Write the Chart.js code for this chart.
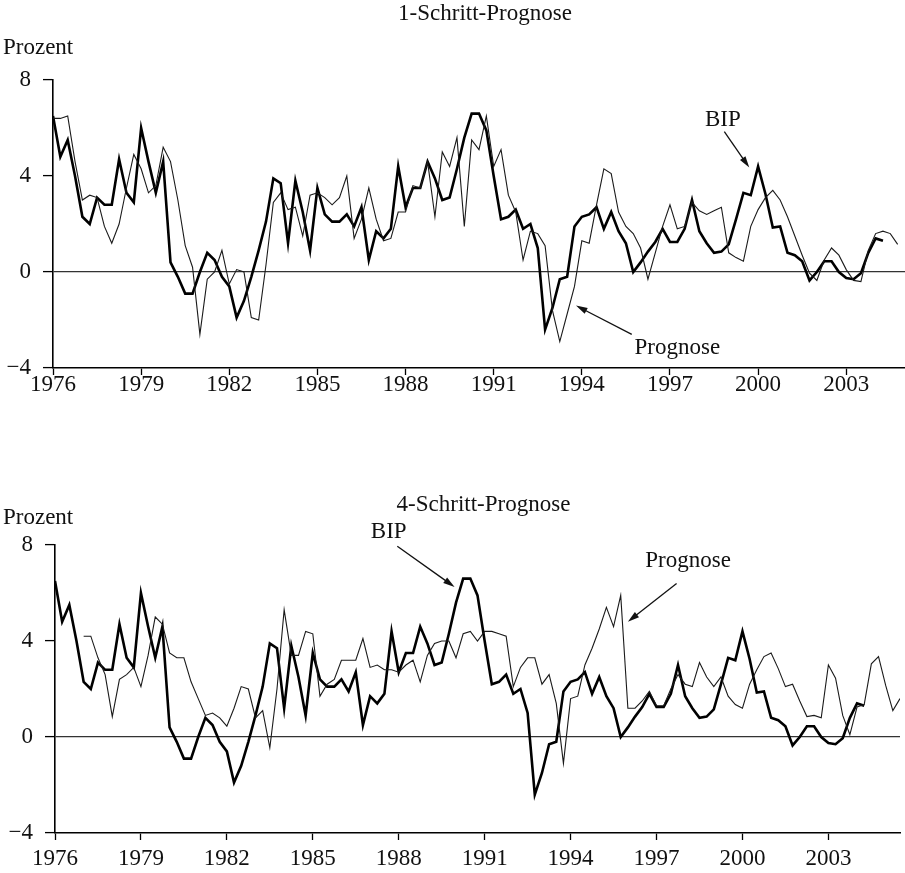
<!DOCTYPE html>
<html>
<head>
<meta charset="utf-8">
<script src="https://cdn.jsdelivr.net/npm/chart.js@4.4.1/dist/chart.umd.min.js"></script>
<style>
  body { margin: 0; background: #fff; width: 905px; height: 873px; position: relative; overflow: hidden; }
  canvas { position: absolute; left: 0; }
</style>
</head>
<body>
<canvas id="chartOne" width="905" height="405" style="top:0px"></canvas>
<canvas id="chartFour" width="905" height="403" style="top:470px"></canvas>
<script>
// Quarterly data, starting 1976 Q1
const startYear = 1976;
const yearTicks = [1976, 1979, 1982, 1985, 1988, 1991, 1994, 1997, 2000, 2003];
const valueTicks = [-4, 0, 4, 8];

// BIP growth (thick line), same in both panels
const bip = [
  6.5, 4.8, 5.5, 4.0, 2.3, 2.0, 3.1, 2.8, 2.8, 4.7, 3.3, 2.9,
  6.0, 4.6, 3.3, 4.6, 0.4, -0.2, -0.9, -0.9, 0.0, 0.8, 0.5, -0.2,
  -0.6, -1.9, -1.2, -0.2, 0.9, 2.1, 3.9, 3.7, 1.2, 3.8, 2.5, 0.9,
  3.5, 2.4, 2.1, 2.1, 2.4, 1.9, 2.7, 0.5, 1.7, 1.4, 1.8, 4.4,
  2.7, 3.5, 3.5, 4.6, 3.9, 3.0, 3.1, 4.3, 5.6, 6.6, 6.6, 5.9,
  4.0, 2.2, 2.3, 2.6, 1.8, 2.0, 1.0, -2.4, -1.5, -0.3, -0.2, 1.9,
  2.3, 2.4, 2.7, 1.8, 2.5, 1.7, 1.2, 0.0, 0.4, 0.85, 1.25, 1.8,
  1.25, 1.25, 1.8, 3.0, 1.7, 1.2, 0.8, 0.85, 1.15, 2.2, 3.3, 3.2,
  4.4, 3.25, 1.85, 1.9, 0.8, 0.7, 0.45, -0.35, 0.0, 0.45, 0.45, 0.0,
  -0.25, -0.3, -0.05, 0.8, 1.4, 1.3
];

// 1-step forecast (thin line, upper panel)
const prognose1 = [
  6.4, 6.4, 6.5, 4.6, 3.0, 3.2, 3.1, 1.9, 1.2, 2.0, 3.5, 4.9,
  4.3, 3.3, 3.6, 5.2, 4.6, 3.0, 1.1, 0.2, -2.6, -0.3, 0.0, 0.9,
  -0.5, 0.1, 0.0, -1.9, -2.0, 0.3, 2.9, 3.3, 2.6, 2.7, 1.5, 3.2,
  3.3, 3.1, 2.8, 3.1, 4.0, 1.4, 2.2, 3.5, 2.2, 1.3, 1.4, 2.5,
  2.5, 3.6, 3.5, 4.6, 2.3, 5.0, 4.4, 5.6, 1.9, 5.5, 5.1, 6.5,
  4.4, 5.1, 3.2, 2.5, 0.5, 1.7, 1.6, 1.1, -1.6, -2.9, -1.75, -0.6,
  1.3, 1.2, 2.8, 4.3, 4.1, 2.5, 1.9, 1.6, 1.0, -0.3, 0.8, 1.9,
  2.8, 1.8, 1.9, 2.9, 2.55, 2.4, 2.55, 2.7, 0.8, 0.6, 0.45, 1.9,
  2.6, 3.1, 3.4, 3.0, 2.3, 1.5, 0.7, -0.05, -0.35, 0.5, 1.0, 0.7,
  0.1, -0.35, -0.4, 0.9, 1.6, 1.7, 1.6, 1.15
];

// 4-step forecast (thin line, lower panel), first year empty
const prognose4 = [
  null, null, null, null, 4.2, 4.2, 3.3, 2.6, 0.85, 2.4, 2.6, 2.9,
  2.1, 3.4, 5.0, 4.7, 3.5, 3.3, 3.3, 2.3, 1.6, 0.9, 1.0, 0.8,
  0.45, 1.2, 2.1, 2.0, 0.8, 1.1, -0.45, 2.0, 5.3, 3.4, 3.4, 4.4,
  4.3, 1.7, 2.2, 2.4, 3.2, 3.2, 3.2, 4.1, 2.9, 3.0, 2.8, 2.8,
  2.7, 3.0, 3.2, 2.3, 3.4, 3.9, 4.0, 4.0, 3.3, 4.3, 4.4, 4.0,
  4.4, 4.4, 4.3, 4.2, 2.1, 2.9, 3.3, 3.3, 2.2, 2.6, 1.4, -1.1,
  1.6, 1.7, 3.0, 3.7, 4.5, 5.4, 4.6, 5.9, 1.2, 1.2, 1.5, 1.9,
  1.3, 1.3, 2.0, 2.6, 2.2, 2.1, 3.1, 2.5, 2.1, 2.5, 1.7, 1.35,
  1.2, 2.2, 2.8, 3.35, 3.5, 2.85, 2.1, 2.2, 1.5, 0.85, 0.9, 0.8,
  3.0, 2.45, 0.9, 0.1, 1.25, 1.35, 3.05, 3.35, 2.15, 1.1, 1.6
];

const FONT = '"Liberation Serif", "Times New Roman", serif';

const toPoints = (values) => values.map((v, i) => ({ x: startYear + i / 4, y: v }));

// Draws panel title, unit label and the arrow annotations
const annotate = {
  id: 'annotate',
  afterDraw(chart, args, opts) {
    const { ctx, chartArea, scales: { x, y } } = chart;
    ctx.save();
    ctx.fillStyle = '#111';
    ctx.strokeStyle = '#111';
    ctx.font = '23px ' + FONT;
    ctx.textBaseline = 'middle';

    ctx.textAlign = 'center';
    ctx.fillText(opts.title, (chartArea.left + chartArea.right) / 2 + 6, opts.titleY);
    ctx.textAlign = 'left';
    ctx.fillText('Prozent', 3, opts.unitY);

    ctx.textAlign = 'center';
    opts.notes.forEach(n => {
      ctx.fillText(n.text, x.getPixelForValue(n.at[0]), y.getPixelForValue(n.at[1]));
      const x0 = x.getPixelForValue(n.from[0]), y0 = y.getPixelForValue(n.from[1]);
      const x1 = x.getPixelForValue(n.to[0]), y1 = y.getPixelForValue(n.to[1]);
      const ang = Math.atan2(y1 - y0, x1 - x0);
      ctx.lineWidth = 1.3;
      ctx.beginPath();
      ctx.moveTo(x0, y0);
      ctx.lineTo(x1 - 8 * Math.cos(ang), y1 - 8 * Math.sin(ang));
      ctx.stroke();
      ctx.beginPath();
      ctx.moveTo(x1, y1);
      ctx.lineTo(x1 - 12 * Math.cos(ang - 0.28), y1 - 12 * Math.sin(ang - 0.28));
      ctx.lineTo(x1 - 12 * Math.cos(ang + 0.28), y1 - 12 * Math.sin(ang + 0.28));
      ctx.closePath();
      ctx.fill();
    });
    ctx.restore();
  }
};

function makeChart(canvasId, forecast, cfg) {
  const ctx = document.getElementById(canvasId).getContext('2d');
  return new Chart(ctx, {
    type: 'line',
    data: {
      datasets: [
        {
          label: 'Prognose',
          data: toPoints(forecast),
          borderColor: '#1a1a1a',
          borderWidth: 1.1,
          pointRadius: 0,
          tension: 0,
          spanGaps: false,
        },
        {
          label: 'BIP',
          data: toPoints(bip),
          borderColor: '#000',
          borderWidth: 2.6,
          pointRadius: 0,
          tension: 0,
        },
      ],
    },
    options: {
      responsive: false,
      animation: false,
      layout: { padding: { top: cfg.padTop, right: cfg.padRight, left: 0, bottom: 0 } },
      plugins: {
        legend: { display: false },
        tooltip: { enabled: false },
        annotate: { title: cfg.title, titleY: cfg.titleY, unitY: cfg.unitY, notes: cfg.notes },
      },
      scales: {
        x: {
          type: 'linear',
          min: startYear,
          max: cfg.xMax,
          afterBuildTicks: (s) => { s.ticks = yearTicks.map(v => ({ value: v })); },
          afterFit: (s) => { s.height = cfg.xHeight; },
          ticks: {
            color: '#111',
            font: { family: FONT, size: 23 },
            padding: cfg.xPad,
            maxRotation: 0,
            autoSkip: false,
            callback: (v) => String(v),
          },
          grid: { drawOnChartArea: false, tickLength: 7, tickColor: '#000', tickWidth: 1.3 },
          border: { display: true, color: '#000', width: 1.6 },
        },
        y: {
          min: -4,
          max: 8,
          afterBuildTicks: (s) => { s.ticks = valueTicks.map(v => ({ value: v })); },
          afterFit: (s) => { s.width = cfg.yWidth; },
          ticks: {
            color: '#111',
            font: { family: FONT, size: 23 },
            padding: 12,
            callback: (v) => (v < 0 ? '\u2212' + Math.abs(v) : String(v)),
          },
          grid: {
            color: (c) => (c.tick && c.tick.value === 0 ? '#333' : 'rgba(0,0,0,0)'),
            lineWidth: 1.2,
            tickLength: 10,
            tickColor: '#000',
            tickWidth: 1.3,
          },
          border: { display: true, color: '#000', width: 1.6 },
        },
      },
    },
    plugins: [annotate],
  });
}

makeChart('chartOne', prognose1, {
  xMax: 2005, padTop: 80, padRight: 0, xHeight: 37, yWidth: 53, xPad: -4,
  title: '1-Schritt-Prognose', titleY: 14, unitY: 48,
  notes: [
    { text: 'BIP', at: [1998.8, 6.35], from: [1998.85, 5.85], to: [1999.7, 4.35] },
    { text: 'Prognose', at: [1997.25, -3.15], from: [1995.7, -2.6], to: [1993.8, -1.4] },
  ],
});

makeChart('chartFour', prognose4, {
  xMax: 2005.5, padTop: 75, padRight: 5, xHeight: 40, yWidth: 55, xPad: 5,
  title: '4-Schritt-Prognose', titleY: 35, unitY: 48,
  notes: [
    { text: 'BIP', at: [1987.65, 8.55], from: [1987.95, 7.95], to: [1989.95, 6.25] },
    { text: 'Prognose', at: [1998.1, 7.35], from: [1997.7, 6.4], to: [1996.0, 4.8] },
  ],
});
</script>
</body>
</html>
